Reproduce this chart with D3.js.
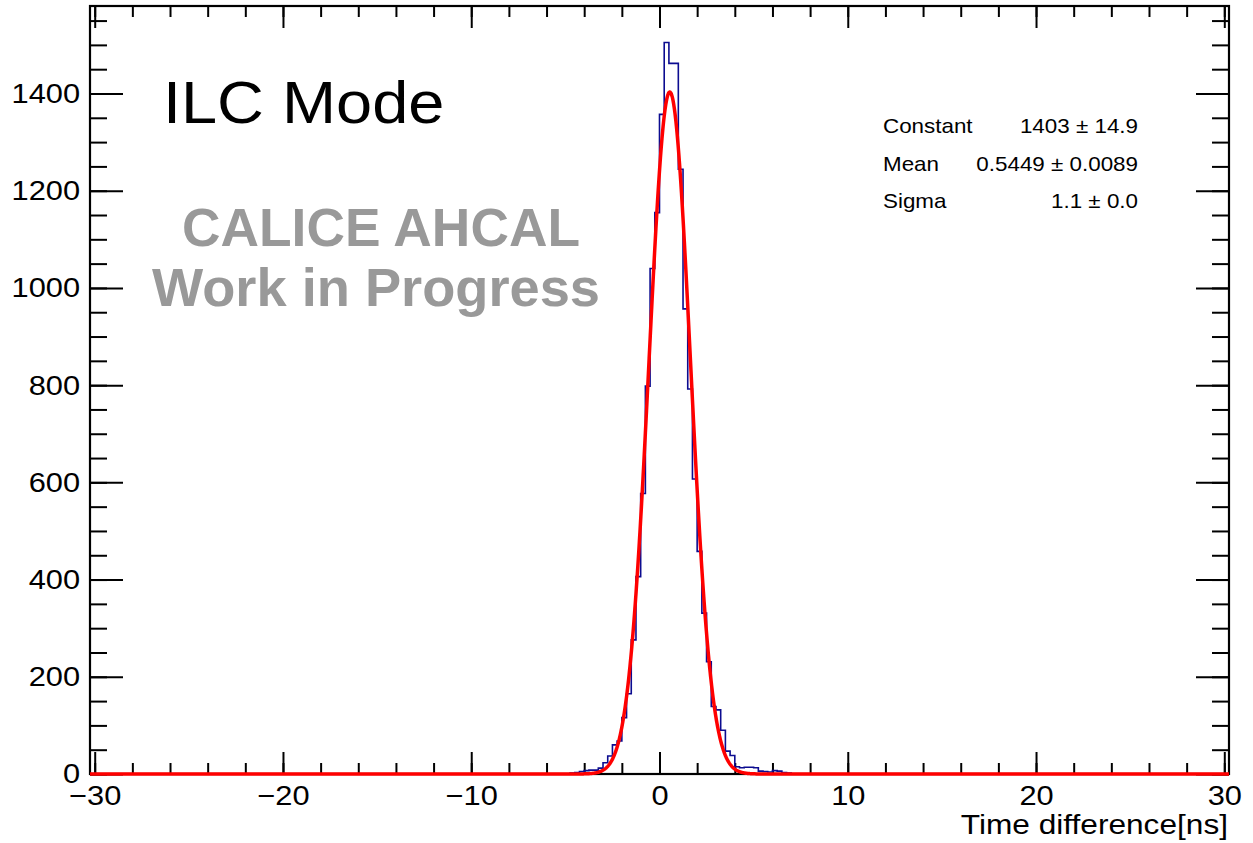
<!DOCTYPE html>
<html>
<head>
<meta charset="utf-8">
<script src="https://cdn.jsdelivr.net/npm/d3@7"></script>
<style>
  body { margin: 0; background: #fff; }
  svg { display: block; }
  text { font-family: "Liberation Sans", Arial, Helvetica, sans-serif; }
</style>
</head>
<body>
<svg id="chart" width="1253" height="843"></svg>
<script>
// Histogram binning
const binWidth = 0.25;
const histRange = [-30.25, 30.25];
const firstFilledLow = -4.75;          // lower edge of first non-empty bin
const binCounts = [
  2, 3, 5, 7, 8, 8, 12, 23, 37, 60, 68, 116, 165, 276, 406,
  577, 798, 1040, 1155, 1357, 1505, 1462, 1462, 1244, 957, 792, 607,
  458, 331, 231, 139, 132, 90, 47, 38, 15, 13, 14, 14, 13, 6, 5, 4, 7, 6, 3, 2
];

// Gaussian fit result
const fitLabels = ["Constant", "Mean", "Sigma"];
const fitValues = ["1403 \u00b1 14.9", "0.5449 \u00b1 0.0089", "1.1 \u00b1 0.0"];
const fitConstant = 1403, fitMean = 0.5449, fitSigma = 1.1;

// Axis ticks
const xMajor = [-30, -20, -10, 0, 10, 20, 30];
const xMinor = d3.range(-30, 30.001, 2);
const yMajor = [0, 200, 400, 600, 800, 1000, 1200, 1400];
const yMinor = d3.range(0, 1580, 50);
const yMax = 1580;

const frame = { left: 90, right: 1229, top: 6, bottom: 774 };
const sx = 1.1; // horizontal text stretch

const svg = d3.select("#chart");
const x = d3.scaleLinear().domain(histRange).range([frame.left, frame.right]);
const y = d3.scaleLinear().domain([0, yMax]).range([frame.bottom, frame.top]);

const fmt = d => (d < 0 ? "\u2212" + Math.abs(d) : String(d));

function styleAxis(g, stroke) {
  g.select(".domain").remove();
  g.selectAll(".tick line").attr("stroke", "#000").attr("stroke-width", stroke);
}

// bottom axis
const gxB = svg.append("g").attr("transform", `translate(0,${frame.bottom})`);
gxB.call(d3.axisBottom(x).tickValues(xMinor).tickSizeInner(-11).tickSizeOuter(0).tickFormat(""))
   .call(g => styleAxis(g, 2));
const gxBM = svg.append("g").attr("transform", `translate(0,${frame.bottom})`);
gxBM.call(d3.axisBottom(x).tickValues(xMajor).tickSizeInner(-22).tickSizeOuter(0).tickPadding(11).tickFormat(fmt))
    .call(g => styleAxis(g, 2));
gxBM.selectAll(".tick text")
    .attr("font-size", 28).attr("fill", "#000")
    .attr("font-family", '"Liberation Sans", Arial, sans-serif')
    .attr("transform", `scale(${sx},1)`);

// top axis (mirror ticks)
svg.append("g").attr("transform", `translate(0,${frame.top})`)
   .call(d3.axisTop(x).tickValues(xMinor).tickSizeInner(-11).tickSizeOuter(0).tickFormat(""))
   .call(g => styleAxis(g, 2));
svg.append("g").attr("transform", `translate(0,${frame.top})`)
   .call(d3.axisTop(x).tickValues(xMajor).tickSizeInner(-22).tickSizeOuter(0).tickFormat(""))
   .call(g => styleAxis(g, 2));

// left axis
svg.append("g").attr("transform", `translate(${frame.left},0)`)
   .call(d3.axisLeft(y).tickValues(yMinor).tickSizeInner(-17).tickSizeOuter(0).tickFormat(""))
   .call(g => styleAxis(g, 2));
const gyL = svg.append("g").attr("transform", `translate(${frame.left},0)`);
gyL.call(d3.axisLeft(y).tickValues(yMajor).tickSizeInner(-33).tickSizeOuter(0).tickPadding(9).tickFormat(d3.format("d")))
   .call(g => styleAxis(g, 2));
gyL.selectAll(".tick text")
   .attr("font-size", 28).attr("fill", "#000")
   .attr("font-family", '"Liberation Sans", Arial, sans-serif')
   .attr("transform", `scale(${sx},1)`);

// right axis (mirror ticks)
svg.append("g").attr("transform", `translate(${frame.right},0)`)
   .call(d3.axisRight(y).tickValues(yMinor).tickSizeInner(-17).tickSizeOuter(0).tickFormat(""))
   .call(g => styleAxis(g, 2));
svg.append("g").attr("transform", `translate(${frame.right},0)`)
   .call(d3.axisRight(y).tickValues(yMajor).tickSizeInner(-33).tickSizeOuter(0).tickFormat(""))
   .call(g => styleAxis(g, 2));

// frame
svg.append("rect")
   .attr("x", frame.left).attr("y", frame.top)
   .attr("width", frame.right - frame.left).attr("height", frame.bottom - frame.top)
   .attr("fill", "none").attr("stroke", "#000").attr("stroke-width", 2.2);

// histogram outline
const nBins = Math.round((histRange[1] - histRange[0]) / binWidth);
const offset = Math.round((firstFilledLow - histRange[0]) / binWidth);
const bins = d3.range(nBins).map(i => {
  const k = i - offset;
  return { lo: histRange[0] + i * binWidth, n: (k >= 0 && k < binCounts.length) ? binCounts[k] : 0 };
});
const stepPts = bins.map(b => [b.lo, b.n]);
stepPts.push([histRange[1], bins[bins.length - 1].n]);
svg.append("path")
   .attr("d", d3.line().x(d => x(d[0])).y(d => y(d[1])).curve(d3.curveStepAfter)(stepPts))
   .attr("fill", "none").attr("stroke", "#0c0c90").attr("stroke-width", 1.6);

// fitted gaussian
const gauss = t => fitConstant * Math.exp(-0.5 * Math.pow((t - fitMean) / fitSigma, 2));
const fitPts = d3.range(histRange[0], histRange[1] + 1e-9, 0.02).map(t => [t, gauss(t)]);
svg.append("path")
   .attr("d", d3.line().x(d => x(d[0])).y(d => y(d[1]))(fitPts))
   .attr("fill", "none").attr("stroke", "#ff0000").attr("stroke-width", 3.5)
   .attr("stroke-linejoin", "round");

// axis title
svg.append("text")
   .attr("transform", `translate(1228,834) scale(1.13,1)`)
   .attr("text-anchor", "end").attr("font-size", 28).attr("fill", "#000")
   .text("Time difference[ns]");

// labels inside the frame
svg.append("text")
   .attr("transform", `translate(163,123) scale(1.1,1)`)
   .attr("font-size", 59).attr("fill", "#000")
   .text("ILC Mode");

svg.append("text")
   .attr("x", 182).attr("y", 246)
   .attr("font-size", 53).attr("font-weight", "bold").attr("fill", "#999999")
   .attr("textLength", 398).attr("lengthAdjust", "spacingAndGlyphs")
   .text("CALICE AHCAL");
svg.append("text")
   .attr("x", 152).attr("y", 306)
   .attr("font-size", 53).attr("font-weight", "bold").attr("fill", "#999999")
   .attr("textLength", 448).attr("lengthAdjust", "spacingAndGlyphs")
   .text("Work in Progress");

// fit statistics
const statBaselines = [133, 171, 208];
fitLabels.forEach((lab, i) => {
  svg.append("text")
     .attr("transform", `translate(883,${statBaselines[i]}) scale(1.12,1)`)
     .attr("font-size", 20).attr("fill", "#000").text(lab);
  svg.append("text")
     .attr("transform", `translate(1138,${statBaselines[i]}) scale(1.12,1)`)
     .attr("text-anchor", "end").attr("font-size", 20).attr("fill", "#000").text(fitValues[i]);
});
</script>
</body>
</html>
